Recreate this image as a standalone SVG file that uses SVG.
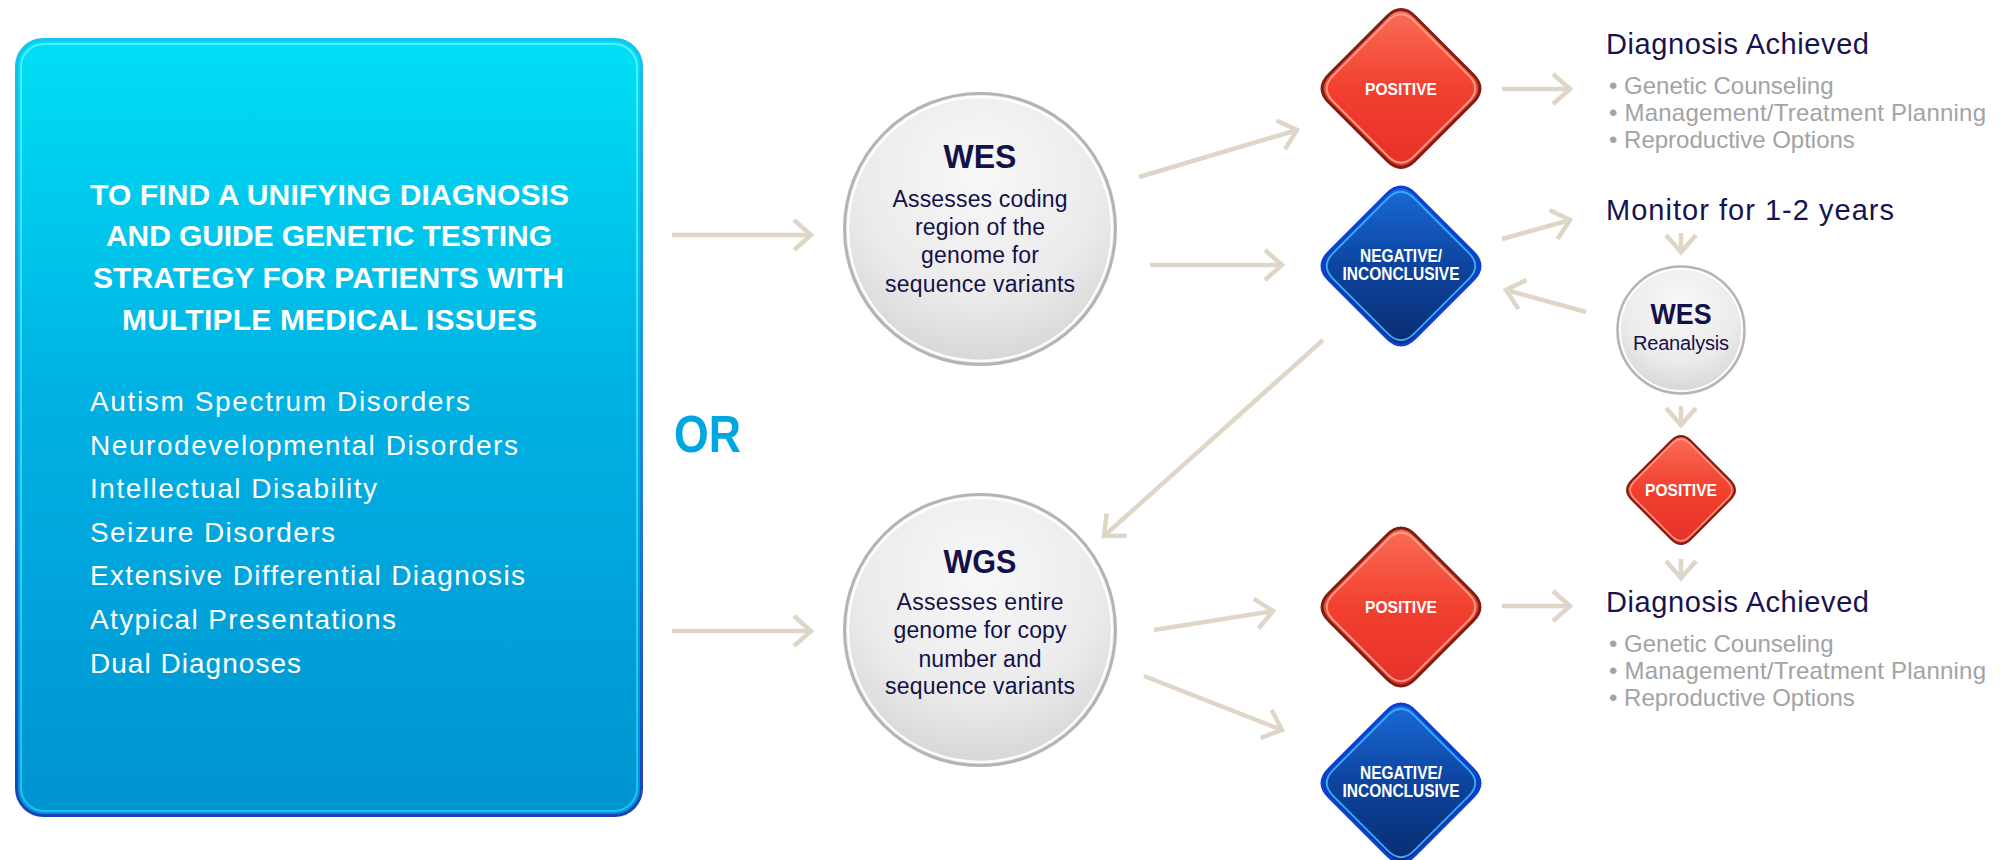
<svg xmlns="http://www.w3.org/2000/svg" xmlns:xlink="http://www.w3.org/1999/xlink" width="2000" height="860" viewBox="0 0 2000 860">
<defs>
<style>
.t{font-family:"Liberation Sans",Arial,sans-serif}
.title{font-size:30px;font-weight:bold;fill:#fff}
.list{font-size:28px;fill:#fff}
.or{font-size:52px;font-weight:bold;fill:#00a6e0}
.ch{font-size:33px;font-weight:bold;fill:#14114a;text-anchor:middle}
.cb{font-size:23px;fill:#14114a;text-anchor:middle}
.dl{font-size:17px;font-weight:bold;fill:#fff;text-anchor:middle}
.dl2{font-size:18px;font-weight:bold;fill:#fff;text-anchor:middle}
.hd{font-size:29px;fill:#17134f}
.bl{font-size:24px;fill:#a3a3a3}
.arr{fill:none;stroke:#e0d6c8;stroke-width:4.5;marker-end:url(#ah)}
.ring{fill:none;stroke:#b4b4b4;stroke-width:3}
.ringIn{fill:none;stroke:#fff;stroke-width:2.5;opacity:.9}
</style>
<marker id="ah" markerUnits="userSpaceOnUse" markerWidth="44" markerHeight="44" viewBox="-30 -22 44 44" refX="0" refY="0" orient="auto" style="overflow:visible">
<path d="M -17 -15 L 0 0 L -17 15" fill="none" stroke="#e0d6c8" stroke-width="4.5" stroke-linejoin="miter"/>
</marker>
<linearGradient id="gBox" x1="0" y1="0" x2="0" y2="1">
<stop offset="0" stop-color="#00dff4"/>
<stop offset="0.45" stop-color="#00b2e4"/>
<stop offset="1" stop-color="#0093d1"/>
</linearGradient>
<linearGradient id="gBoxStroke" x1="0" y1="0" x2="0" y2="1">
<stop offset="0" stop-color="#14c4ee"/>
<stop offset="0.55" stop-color="#1a86dc"/>
<stop offset="1" stop-color="#1c3ebd"/>
</linearGradient>
<linearGradient id="gBoxIn" x1="0" y1="0" x2="0" y2="1">
<stop offset="0" stop-color="#5ef4ff"/>
<stop offset="1" stop-color="#22c8f2"/>
</linearGradient>
<radialGradient id="gCircle" cx="0.5" cy="0.3" r="0.75">
<stop offset="0" stop-color="#f8f8f8"/>
<stop offset="0.6" stop-color="#ebebeb"/>
<stop offset="1" stop-color="#d2d2d2"/>
</radialGradient>
<linearGradient id="gRed" x1="0" y1="0" x2="0" y2="1">
<stop offset="0" stop-color="#fa6c57"/>
<stop offset="0.5" stop-color="#f2402f"/>
<stop offset="1" stop-color="#e6302a"/>
</linearGradient>
<linearGradient id="gBlue" x1="0" y1="0" x2="0" y2="1">
<stop offset="0" stop-color="#1a6ad8"/>
<stop offset="0.5" stop-color="#0c449e"/>
<stop offset="1" stop-color="#0a2c70"/>
</linearGradient>
<path id="dia" d="M -14,-72 Q 0,-86 14,-72 L 72,-14 Q 86,0 72,14 L 14,72 Q 0,86 -14,72 L -72,14 Q -86,0 -72,-14 Z"/>
<g id="redDia">
<use xlink:href="#dia" href="#dia" fill="url(#gRed)" stroke="#7d1e15" stroke-width="3"/>
<use xlink:href="#dia" href="#dia" transform="scale(0.94)" fill="none" stroke="#ff9f88" stroke-width="2" vector-effect="non-scaling-stroke"/>
</g>
<g id="blueDia">
<use xlink:href="#dia" href="#dia" fill="url(#gBlue)" stroke="#0b40d8" stroke-width="3"/>
<use xlink:href="#dia" href="#dia" transform="scale(0.94)" fill="none" stroke="#3aa8ff" stroke-width="2" vector-effect="non-scaling-stroke"/>
</g>
</defs>

<rect x="0" y="0" width="2000" height="860" fill="#fff"/>

<g id="connectors">
<line class="arr" x1="672" y1="235" x2="811" y2="235"/>
<line class="arr" x1="672" y1="631" x2="811" y2="631"/>
<line class="arr" x1="1139" y1="177" x2="1297" y2="130"/>
<line class="arr" x1="1150" y1="265" x2="1282" y2="265"/>
<line class="arr" x1="1154" y1="630" x2="1273" y2="611"/>
<line class="arr" x1="1144" y1="676" x2="1282" y2="730"/>
<line class="arr" x1="1502" y1="89" x2="1570" y2="89"/>
<line class="arr" x1="1502" y1="239" x2="1570" y2="220"/>
<line class="arr" x1="1586" y1="312" x2="1506" y2="290"/>
<line class="arr" x1="1502" y1="606" x2="1570" y2="606"/>
<line class="arr" x1="1323" y1="340" x2="1104" y2="536"/>
<line class="arr" x1="1681" y1="233" x2="1681" y2="252"/>
<line class="arr" x1="1681" y1="406" x2="1681" y2="425"/>
<line class="arr" x1="1681" y1="559" x2="1681" y2="578"/>
</g>

<g id="goal-box">
<rect x="16.5" y="39.5" width="625" height="776" rx="27" fill="url(#gBox)" stroke="url(#gBoxStroke)" stroke-width="3"/>
<rect x="21" y="44" width="616" height="767" rx="23" fill="none" stroke="url(#gBoxIn)" stroke-width="2" opacity="0.85"/>
<text class="t title" x="90" y="205" textLength="479">TO FIND A UNIFYING DIAGNOSIS</text>
<text class="t title" x="106" y="246" textLength="446">AND GUIDE GENETIC TESTING</text>
<text class="t title" x="93" y="288" textLength="471">STRATEGY FOR PATIENTS WITH</text>
<text class="t title" x="122" y="330" textLength="415">MULTIPLE MEDICAL ISSUES</text>
<text class="t list" x="90" y="411" textLength="380">Autism Spectrum Disorders</text>
<text class="t list" x="90" y="455" textLength="428">Neurodevelopmental Disorders</text>
<text class="t list" x="90" y="498" textLength="287">Intellectual Disability</text>
<text class="t list" x="90" y="542" textLength="245">Seizure Disorders</text>
<text class="t list" x="90" y="585" textLength="435">Extensive Differential Diagnosis</text>
<text class="t list" x="90" y="629" textLength="306">Atypical Presentations</text>
<text class="t list" x="90" y="673" textLength="211">Dual Diagnoses</text>
</g>

<g id="or-label">
<text class="t or" x="674" y="452" textLength="67" lengthAdjust="spacingAndGlyphs">OR</text>
</g>

<g id="wes">
<circle cx="980" cy="229" r="135.5" fill="url(#gCircle)"/>
<circle class="ring" cx="980" cy="229" r="135.5"/>
<circle class="ringIn" cx="980" cy="229" r="132"/>
<text class="t ch" x="980" y="168" textLength="73" lengthAdjust="spacingAndGlyphs">WES</text>
<text class="t cb" x="980" y="207" textLength="175">Assesses coding</text>
<text class="t cb" x="980" y="235" textLength="130">region of the</text>
<text class="t cb" x="980" y="263" textLength="118">genome for</text>
<text class="t cb" x="980" y="292" textLength="190">sequence variants</text>
</g>

<g id="wgs">
<circle cx="980" cy="630" r="135.5" fill="url(#gCircle)"/>
<circle class="ring" cx="980" cy="630" r="135.5"/>
<circle class="ringIn" cx="980" cy="630" r="132"/>
<text class="t ch" x="980" y="573" textLength="73" lengthAdjust="spacingAndGlyphs">WGS</text>
<text class="t cb" x="980" y="610" textLength="167">Assesses entire</text>
<text class="t cb" x="980" y="638" textLength="173">genome for copy</text>
<text class="t cb" x="980" y="667" textLength="123">number and</text>
<text class="t cb" x="980" y="694" textLength="190">sequence variants</text>
</g>

<g id="wes-positive">
<use xlink:href="#redDia" href="#redDia" transform="translate(1401 88.5)"/>
<text class="t dl" x="1401" y="95" textLength="72" lengthAdjust="spacingAndGlyphs">POSITIVE</text>
</g>

<g id="wes-negative">
<use xlink:href="#blueDia" href="#blueDia" transform="translate(1401 266)"/>
<text class="t dl2" x="1401" y="262" textLength="82" lengthAdjust="spacingAndGlyphs">NEGATIVE/</text>
<text class="t dl2" x="1401" y="279.5" textLength="117" lengthAdjust="spacingAndGlyphs">INCONCLUSIVE</text>
</g>

<g id="wgs-positive">
<use xlink:href="#redDia" href="#redDia" transform="translate(1401 607)"/>
<text class="t dl" x="1401" y="613" textLength="72" lengthAdjust="spacingAndGlyphs">POSITIVE</text>
</g>

<g id="wgs-negative">
<use xlink:href="#blueDia" href="#blueDia" transform="translate(1401 783)"/>
<text class="t dl2" x="1401" y="779" textLength="82" lengthAdjust="spacingAndGlyphs">NEGATIVE/</text>
<text class="t dl2" x="1401" y="796.5" textLength="117" lengthAdjust="spacingAndGlyphs">INCONCLUSIVE</text>
</g>

<g id="diagnosis-top">
<text class="t hd" x="1606" y="54" textLength="263">Diagnosis Achieved</text>
<text class="t bl" x="1609" y="94">• Genetic Counseling</text>
<text class="t bl" x="1609" y="121" textLength="377">• Management/Treatment Planning</text>
<text class="t bl" x="1609" y="148">• Reproductive Options</text>
</g>

<g id="monitor">
<text class="t hd" x="1606" y="220" textLength="288">Monitor for 1-2 years</text>
</g>

<g id="wes-reanalysis">
<circle cx="1681" cy="330" r="63.5" fill="url(#gCircle)"/>
<circle class="ring" cx="1681" cy="330" r="63.5" style="stroke-width:2.5"/>
<circle class="ringIn" cx="1681" cy="330" r="61" style="stroke-width:2"/>
<text class="t" x="1681" y="324" font-size="29" font-weight="bold" fill="#14114a" text-anchor="middle" textLength="61" lengthAdjust="spacingAndGlyphs">WES</text>
<text class="t" x="1681" y="350" font-size="20" fill="#14114a" text-anchor="middle" textLength="96">Reanalysis</text>
</g>

<g id="reanalysis-positive">
<use xlink:href="#redDia" href="#redDia" transform="translate(1681 490) scale(0.683)"/>
<text class="t dl" x="1681" y="496" textLength="72" lengthAdjust="spacingAndGlyphs">POSITIVE</text>
</g>

<g id="diagnosis-bottom">
<text class="t hd" x="1606" y="612" textLength="263">Diagnosis Achieved</text>
<text class="t bl" x="1609" y="652">• Genetic Counseling</text>
<text class="t bl" x="1609" y="679" textLength="377">• Management/Treatment Planning</text>
<text class="t bl" x="1609" y="706">• Reproductive Options</text>
</g>
</svg>
